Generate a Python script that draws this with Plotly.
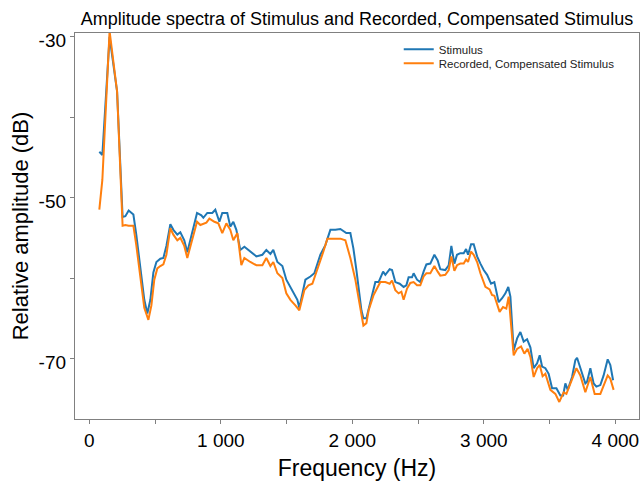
import plotly.graph_objects as go

# ---- data ----
freq_stim = [76, 99, 154, 211, 253, 274, 299, 335, 357, 388, 418, 441, 464, 487, 510, 540, 563, 586,
             616, 639, 669, 692, 722, 745, 776, 819, 852, 867, 897, 935, 958, 989, 1011, 1049, 1072,
             1095, 1118, 1148, 1179, 1224, 1270, 1316, 1346, 1377, 1399, 1430, 1468, 1498, 1529, 1559,
             1582, 1597, 1643, 1681, 1711, 1757, 1795, 1833, 1871, 1909, 1932, 1954, 1985, 2008, 2031,
             2053, 2069, 2084, 2107, 2122, 2150, 2175, 2200, 2234, 2251, 2284, 2302, 2327, 2360, 2390,
             2411, 2428, 2454, 2466, 2492, 2517, 2542, 2563, 2593, 2624, 2649, 2669, 2707, 2733, 2753,
             2776, 2796, 2821, 2847, 2865, 2880, 2903, 2923, 2949, 2974, 2999, 3025, 3055, 3080, 3113,
             3139, 3164, 3186, 3202, 3227, 3253, 3278, 3303, 3329, 3354, 3379, 3405, 3425, 3443, 3468,
             3493, 3519, 3552, 3582, 3603, 3620, 3638, 3671, 3696, 3709, 3734, 3772, 3785, 3810, 3835,
             3856, 3886, 3911, 3942, 3962, 3983]
db_stim = [-44.3, -44.7, -30.0, -36.8, -52.4, -52.3, -51.6, -52.1, -54.6, -59.0, -62.7, -64.4, -62.7,
           -59.3, -58.0, -57.6, -57.5, -56.0, -53.3, -54.0, -54.6, -54.3, -55.3, -56.8, -54.6, -51.9,
           -52.2, -52.5, -51.9, -51.9, -51.5, -53.0, -51.9, -51.9, -53.6, -53.0, -54.0, -56.5, -56.1,
           -56.7, -57.3, -57.1, -56.5, -57.0, -56.5, -58.0, -58.5, -60.2, -61.1, -61.9, -62.7, -63.7,
           -60.2, -59.8, -59.4, -57.1, -55.9, -54.0, -54.0, -53.9, -54.2, -54.4, -54.4, -56.3, -59.0,
           -61.8, -64.0, -65.0, -65.0, -64.0, -62.0, -60.5, -60.5, -59.2, -59.6, -58.9, -59.0, -60.5,
           -60.7, -61.1, -60.9, -59.9, -59.9, -59.4, -60.2, -60.5, -59.2, -58.3, -58.2, -57.1, -57.8,
           -58.9, -59.0, -58.4, -56.0, -58.2, -57.1, -56.9, -56.9, -56.4, -57.1, -55.8, -55.8, -57.3,
           -58.2, -59.0, -59.6, -60.7, -60.5, -63.0, -62.5, -61.9, -61.1, -62.3, -69.0, -67.5, -66.7,
           -67.9, -67.6, -68.6, -71.2, -70.6, -69.6, -71.0, -71.2, -71.9, -73.7, -73.7, -74.6, -74.6,
           -73.1, -73.9, -72.3, -70.2, -69.9, -71.2, -73.1, -72.9, -71.2, -73.1, -73.5, -73.3, -72.1,
           -70.1, -70.8, -72.7]

freq_rec = [76, 99, 154, 211, 253, 274, 299, 335, 357, 388, 418, 449, 472, 494, 517, 540, 563, 586,
            616, 639, 669, 692, 722, 745, 776, 819, 844, 890, 913, 951, 981, 1011, 1042, 1072, 1095,
            1126, 1156, 1179, 1224, 1270, 1316, 1346, 1377, 1399, 1430, 1468, 1498, 1529, 1567, 1597,
            1635, 1666, 1696, 1734, 1780, 1810, 1856, 1909, 1947, 1985, 2023, 2061, 2084, 2107, 2124,
            2162, 2200, 2213, 2251, 2284, 2302, 2327, 2352, 2373, 2390, 2416, 2441, 2466, 2492, 2517,
            2542, 2563, 2593, 2624, 2649, 2669, 2707, 2733, 2753, 2776, 2796, 2821, 2847, 2865, 2880,
            2903, 2923, 2949, 2974, 3012, 3044, 3062, 3080, 3120, 3146, 3171, 3189, 3227, 3253, 3283,
            3308, 3333, 3354, 3379, 3405, 3425, 3447, 3468, 3506, 3544, 3574, 3607, 3628, 3671, 3704,
            3734, 3772, 3810, 3843, 3886, 3917, 3942, 3962, 3987]
db_rec = [-51.5, -47.8, -29.3, -36.8, -53.5, -53.4, -53.5, -53.5, -55.9, -60.2, -63.7, -65.2, -63.4,
          -60.2, -58.8, -58.5, -58.3, -57.1, -53.8, -54.6, -55.3, -55.0, -56.0, -57.5, -55.5, -53.0,
          -53.4, -53.1, -52.6, -53.0, -53.2, -54.4, -53.2, -54.0, -55.3, -54.4, -58.4, -57.5, -58.0,
          -58.4, -58.4, -57.5, -58.5, -58.0, -59.4, -60.0, -61.9, -62.7, -63.4, -64.0, -61.5, -60.9,
          -60.7, -59.0, -56.7, -55.1, -55.1, -55.1, -55.3, -57.5, -60.2, -64.0, -65.9, -65.6, -64.0,
          -62.1, -60.9, -60.5, -60.5, -60.7, -60.3, -61.5, -61.9, -61.7, -62.7, -61.3, -60.6, -60.5,
          -60.9, -60.9, -59.8, -59.4, -59.4, -58.5, -59.2, -59.7, -59.6, -59.0, -57.3, -59.1, -58.4,
          -58.2, -58.2, -57.7, -58.0, -56.7, -57.1, -58.0, -59.4, -61.1, -61.4, -62.1, -62.2, -64.2,
          -63.6, -63.8, -62.3, -69.6, -68.8, -68.5, -69.4, -68.8, -69.8, -72.3, -71.2, -70.8, -72.2,
          -71.9, -73.9, -74.4, -75.4, -74.2, -74.4, -72.7, -71.2, -72.1, -74.2, -72.3, -74.4, -74.4,
          -73.1, -72.1, -72.5, -73.9]

series_names = ["Stimulus", "Recorded, Compensated Stimulus"]
x_tickvals = [0, 1000, 2000, 3000, 4000]
x_ticktext = ["0", "1 000", "2 000", "3 000", "4 000"]
x_minor = [500, 1500, 2500, 3500]
y_tickvals = [-30, -50, -70]
y_ticktext = ["-30", "-50", "-70"]
y_minor = [-40, -60]

FONT = "Liberation Sans, Arial, sans-serif"
AX = "#808080"

fig = go.Figure()
fig.add_trace(go.Scatter(x=freq_stim, y=db_stim, mode="lines", name=series_names[0],
                         line=dict(color="#1f77b4", width=2), legend="legend"))
fig.add_trace(go.Scatter(x=freq_rec, y=db_rec, mode="lines", name=series_names[1],
                         line=dict(color="#ff7f0e", width=2), legend="legend2"))

axis_common = dict(showline=True, mirror=True, linecolor=AX, linewidth=1.3, showgrid=False,
                   zeroline=False, ticks="outside", ticklen=4, tickwidth=1.3, tickcolor=AX,
                   tickfont=dict(family=FONT, size=19, color="black"), tickmode="array")

fig.update_xaxes(range=[-109, 4180], tickvals=x_tickvals, ticktext=x_ticktext,
                 minor=dict(tickmode="array", tickvals=x_minor, ticks="outside", ticklen=4,
                            tickwidth=1.3, tickcolor=AX),
                 title=dict(text="Frequency (Hz)", font=dict(family=FONT, size=23, color="black"),
                            standoff=9),
                 **axis_common)
fig.update_yaxes(range=[-77.52, -29.53], tickvals=y_tickvals, ticktext=y_ticktext,
                 ticklabelshift=4,
                 minor=dict(tickmode="array", tickvals=y_minor, ticks="outside", ticklen=4,
                            tickwidth=1.3, tickcolor=AX),
                 title=dict(text="Relative amplitude (dB)", font=dict(family=FONT, size=22, color="black"),
                            standoff=3),
                 **axis_common)

leg_common = dict(xanchor="left", yanchor="top", bgcolor="rgba(0,0,0,0)", borderwidth=0,
                  font=dict(family=FONT, size=11.5, color="#222"))

fig.update_layout(
    width=641, height=485,
    margin=dict(l=75, r=2, t=33, b=66, autoexpand=False),
    paper_bgcolor="white", plot_bgcolor="white",
    title=dict(text="Amplitude spectra of Stimulus and Recorded, Compensated Stimulus",
               font=dict(family=FONT, size=18, color="black"),
               x=0.5, xref="paper", xanchor="center", y=1 - 19 / 485, yref="container",
               yanchor="middle"),
    legend=dict(x=0.574, y=0.9955, **leg_common),
    legend2=dict(x=0.574, y=0.9592, **leg_common),
    showlegend=True,
)

fig.write_html("out.html")
